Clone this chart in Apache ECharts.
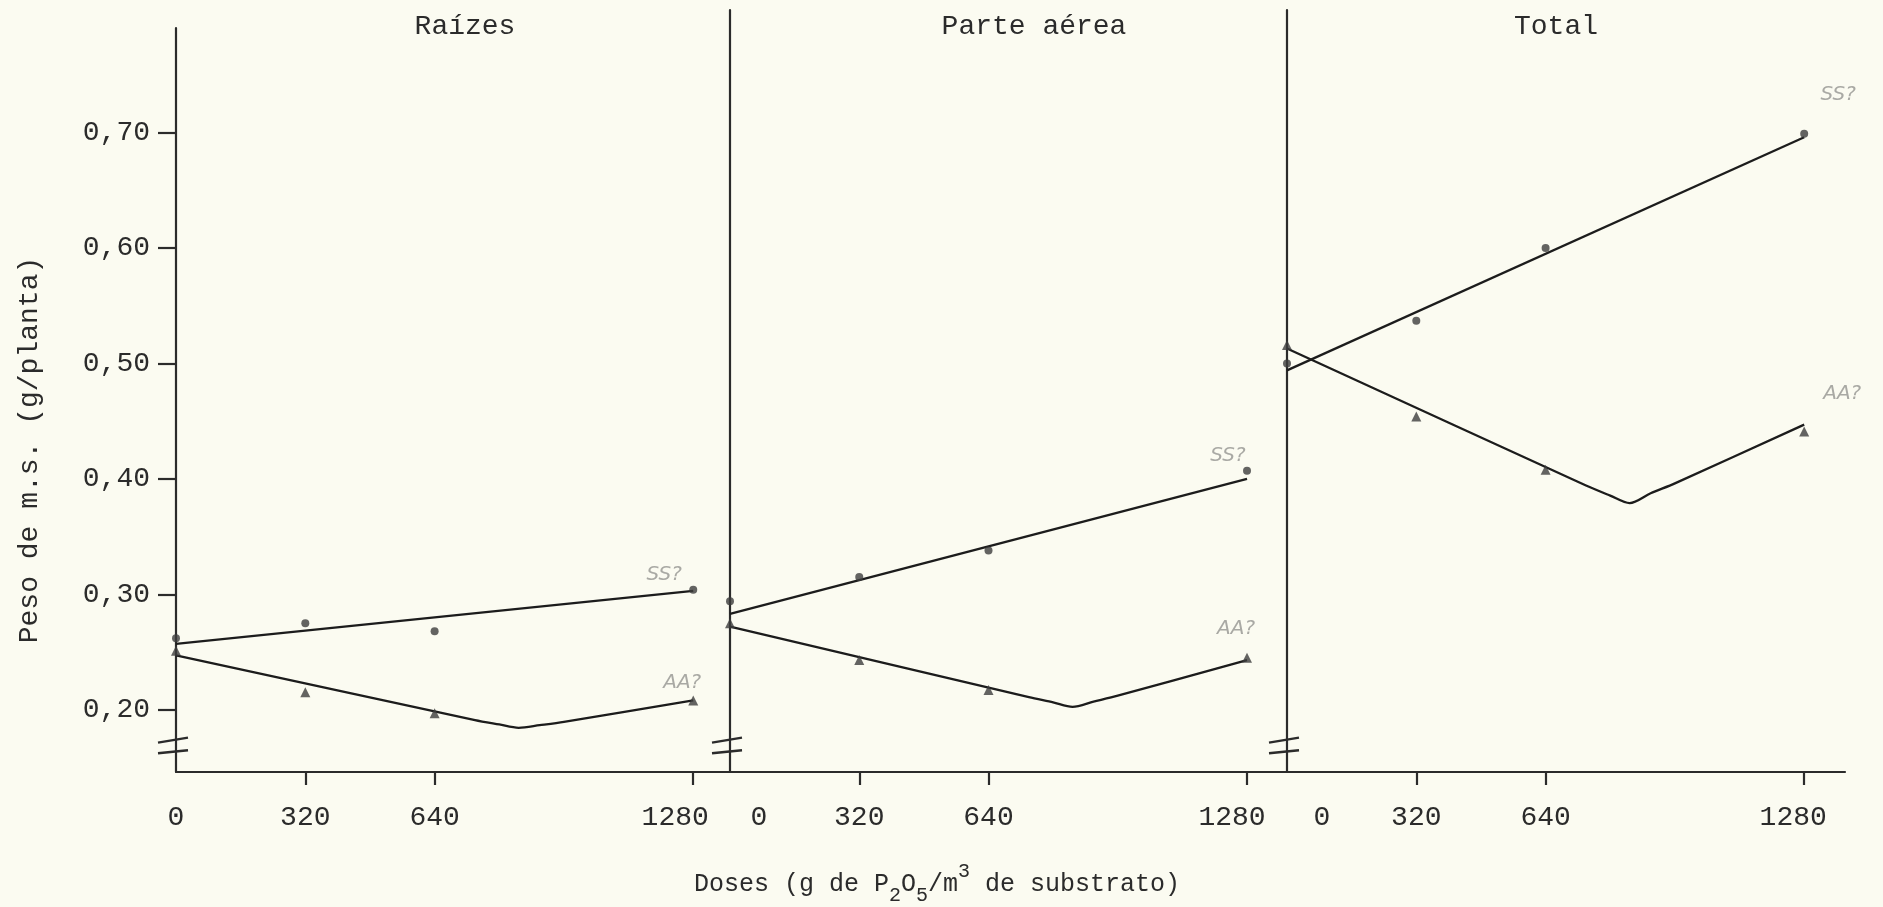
<!DOCTYPE html>
<html>
<head>
<meta charset="utf-8">
<title>Peso de m.s. (g/planta)</title>
<script src="https://cdn.jsdelivr.net/npm/echarts@6/dist/echarts.min.js"></script>
<style>
  html, body { margin: 0; padding: 0; background: #fbfbf1; }
  #main { width: 1883px; height: 907px; }
</style>
</head>
<body>
<div id="main"></div>
<script>
// doses (g de P2O5/m3) and panels
var doses = [0, 320, 640, 1280];
var panelNames = ['Raízes', 'Parte aérea', 'Total'];
var yTicks = [0.20, 0.30, 0.40, 0.50, 0.60, 0.70];
var curveNames = ['SS?', 'AA?'];

// observed points, one row per panel (g/planta)
var ssObs = [
  [0.262, 0.275, 0.268, 0.304],
  [0.294, 0.315, 0.338, 0.407],
  [0.500, 0.537, 0.600, 0.699]
];
var aaObs = [
  [0.251, 0.215, 0.197, 0.208],
  [0.275, 0.243, 0.217, 0.245],
  [0.516, 0.454, 0.408, 0.441]
];

// fitted curves
var ssFitDoses = [0, 1280];
var ssFit = [
  [0.257, 0.303],
  [0.283, 0.400],
  [0.494, 0.696]
];
var aaFitDoses = [0, 740, 800, 848, 900, 960, 1280];
var aaFit = [
  [0.247, 0.191, 0.1872, 0.1843, 0.1866, 0.1895, 0.208],
  [0.272, 0.2108, 0.2064, 0.2025, 0.207, 0.2122, 0.243],
  [0.513, 0.3942, 0.3855, 0.379, 0.3875, 0.3961, 0.447]
];

// ---- layout ----
var FONT = "'Liberation Mono', 'DejaVu Sans Mono', monospace";
var INK = '#2b2b2b';
var gridLeft = [176, 730, 1287];
var gridWidth = [554, 557, 558];
var gridTop = [28, 10, 10];
var axisBottom = 772;       // pixel row of the x axis line
var yAtBottom = 0.146;      // value at the x axis line (broken axis)
var pxPerY = 1154;
var pxPerX = 0.404;
var zeroShift = [0, 29, 35];     // typed label offsets of the scan
var endShift = [-18, -15, -11];
var ssLabelOff = [[-29, -16], [-19, -23], [34, -42]];
var aaLabelOff = [[-11, -18], [-11, -31], [38, -31]];
var titleX = [465, 1034, 1556];

var chart = echarts.init(document.getElementById('main'));

var grids = [], xAxes = [], yAxes = [], series = [];

function pairs(xs, ys) {
  return xs.map(function (x, k) { return [x, ys[k]]; });
}

function endMark(xs, ys, text, off) {
  return {
    symbol: 'circle',
    symbolSize: 1,
    itemStyle: { color: 'rgba(0,0,0,0)' },
    label: {
      show: true, position: 'inside', formatter: text, offset: off,
      color: '#a9a9a4', fontStyle: 'italic', fontSize: 20,
      fontFamily: "'DejaVu Sans', sans-serif"
    },
    data: [{ coord: [xs[xs.length - 1], ys[ys.length - 1]] }]
  };
}

for (var i = 0; i < 3; i++) {
  grids.push({
    left: gridLeft[i], width: gridWidth[i],
    top: gridTop[i], height: axisBottom - gridTop[i]
  });
  (function (i) {
    xAxes.push({
      type: 'value', gridIndex: i, min: 0,
      max: Math.round(gridWidth[i] / pxPerX),
      splitLine: { show: false },
      axisLine: { show: true, lineStyle: { color: INK, width: 2.2 } },
      axisTick: {
        show: true, customValues: [320, 640, 1280], length: 13,
        lineStyle: { color: INK, width: 2.2 }
      },
      axisLabel: {
        customValues: doses, margin: 32, color: INK,
        fontFamily: FONT, fontSize: 28,
        formatter: function (v) {
          if (v === 0) return '{z|0}';
          if (v === 1280) return '{e|1280}';
          return String(v);
        },
        rich: {
          z: { fontFamily: FONT, fontSize: 28, color: INK, padding: [0, 0, 0, 2 * zeroShift[i]] },
          e: { fontFamily: FONT, fontSize: 28, color: INK, padding: [0, -2 * endShift[i], 0, 0] }
        }
      }
    });
  })(i);
  yAxes.push({
    type: 'value', gridIndex: i,
    min: yAtBottom,
    max: +(yAtBottom + (axisBottom - gridTop[i]) / pxPerY).toFixed(4),
    splitLine: { show: false },
    axisLine: { show: true, lineStyle: { color: INK, width: 2.2 } },
    axisTick: {
      show: i === 0, customValues: yTicks, length: 18,
      lineStyle: { color: INK, width: 2.2 }
    },
    axisLabel: {
      show: i === 0, customValues: yTicks, margin: 26, color: INK,
      fontFamily: FONT, fontSize: 28, padding: [0, 0, 18, 0],
      formatter: function (v) { return v.toFixed(2).replace('.', ','); }
    }
  });

  series.push({
    name: curveNames[0], type: 'line', xAxisIndex: i, yAxisIndex: i,
    data: pairs(ssFitDoses, ssFit[i]), symbol: 'none',
    lineStyle: { color: '#1c1c1c', width: 2.3 },
    markPoint: endMark(ssFitDoses, ssFit[i], curveNames[0], ssLabelOff[i])
  });
  series.push({
    name: curveNames[1], type: 'line', xAxisIndex: i, yAxisIndex: i,
    data: pairs(aaFitDoses, aaFit[i]), symbol: 'none', smooth: 0.3,
    lineStyle: { color: '#1c1c1c', width: 2.3, join: 'round' },
    markPoint: endMark(aaFitDoses, aaFit[i], curveNames[1], aaLabelOff[i])
  });
  series.push({
    type: 'scatter', xAxisIndex: i, yAxisIndex: i, z: 5,
    data: pairs(doses, ssObs[i]),
    symbol: 'circle', symbolSize: 8,
    itemStyle: { color: '#3d3d3d' }
  });
  series.push({
    type: 'scatter', xAxisIndex: i, yAxisIndex: i, z: 5,
    data: pairs(doses, aaObs[i]),
    symbol: 'triangle', symbolSize: 10,
    itemStyle: { color: '#3d3d3d' }
  });
}

var textStyle = function (t, extra) {
  var s = {
    text: t, font: '28px ' + FONT, fill: INK,
    align: 'center', verticalAlign: 'middle',
    textAlign: 'center', textVerticalAlign: 'middle'
  };
  for (var k in extra) s[k] = extra[k];
  return s;
};

var graphics = [];
panelNames.forEach(function (n, i) {
  graphics.push({ type: 'text', x: titleX[i], y: 27, style: textStyle(n) });
});
graphics.push({
  type: 'text', x: 30, y: 450, rotation: Math.PI / 2,
  style: textStyle('Peso de m.s. (g/planta)')
});
graphics.push({
  type: 'text', x: 937, y: 884,
  style: textStyle('{t|Doses (g de P}{s|2}{t|O}{s|5}{t|/m}{p|3}{t| de substrato)}', {
    font: '25px ' + FONT,
    rich: {
      t: { fontFamily: FONT, fontSize: 25, fill: INK, lineHeight: 44, verticalAlign: 'middle' },
      s: { fontFamily: FONT, fontSize: 20, fill: INK, lineHeight: 19, verticalAlign: 'bottom' },
      p: { fontFamily: FONT, fontSize: 20, fill: INK, lineHeight: 19, verticalAlign: 'top' }
    }
  })
});

chart.setOption({
  backgroundColor: '#fbfbf1',
  animation: false,
  textStyle: { fontFamily: FONT },
  grid: grids,
  xAxis: xAxes,
  yAxis: yAxes,
  series: series,
  graphic: graphics
});

// axis break marks ("=") near the foot of each vertical axis
var breakVals = [0.174, 0.164];
for (var j = 0; j < 3; j++) {
  breakVals.forEach(function (v, k) {
    var p = chart.convertToPixel({ gridIndex: j }, [0, v]);
    graphics.push({
      type: 'line',
      shape: { x1: p[0] - 18, y1: p[1] + 3 - k, x2: p[0] + 12, y2: p[1] - 2 + k },
      style: { stroke: INK, lineWidth: 2.4 }
    });
  });
}
chart.setOption({ graphic: graphics });
</script>
</body>
</html>
